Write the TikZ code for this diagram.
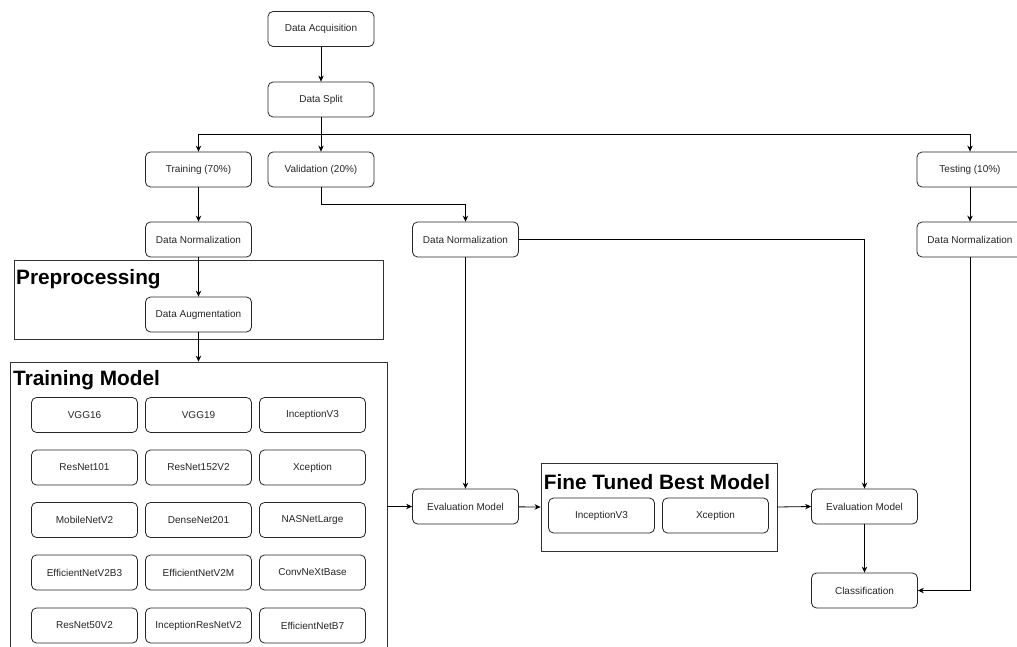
\documentclass[tikz,border=0pt]{standalone}
\usepackage{fontspec}
\setmainfont{Liberation Sans}
\usetikzlibrary{arrows.meta}
\begin{document}
\begin{tikzpicture}[x=1pt,y=-1pt,
  stepbox/.style={draw=black!85, line width=0.8pt, rounded corners=5pt, minimum width=106pt, minimum height=35pt, inner sep=0pt, font=\fontsize{10}{12}\selectfont, text=black!85},
  container/.style={draw=black!80, line width=0.8pt, inner sep=0pt},
  title/.style={font=\fontsize{20.8}{25}\selectfont\bfseries, inner sep=0pt},
  conn/.style={line width=0.8pt, -{Stealth[length=6pt,width=5.5pt]}},
  plain/.style={line width=0.8pt}]
\useasboundingbox (0,0) rectangle (1017,647);
\clip (0,0) rectangle (1017,647);
\fill[white] (0,0) rectangle (1017,647);

% containers
\node[container, minimum width=369pt, minimum height=79pt] (prep) at (198.5,299.5) {};
\node[title, anchor=west] (preptitle) at (16,279) {Preprocessing};
\node[container, minimum width=377pt, minimum height=338pt] (tm) at (198.5,531) {};
\node[title, anchor=west] (tmtitle) at (13,380) {Training Model};
\node[container, minimum width=236pt, minimum height=88pt] (ft) at (659,507) {};
\node[title] (fttitle) at (657,482) {Fine Tuned Best Model};

% boxes
\node[stepbox] (acq) at (321,29) {Data Acquisition};
\node[stepbox] (split) at (321,99.5) {Data Split};
\node[stepbox] (train) at (198.5,169.5) {Training (70\%)};
\node[stepbox] (val) at (321,169.5) {Validation (20\%)};
\node[stepbox] (test) at (970,169.5) {Testing (10\%)};
\node[stepbox] (dn1) at (198.5,239.5) {Data Normalization};
\node[stepbox] (dn2) at (465.5,239.5) {Data Normalization};
\node[stepbox] (dn3) at (970,239.5) {Data Normalization};
\node[stepbox] (aug) at (198.5,314.5) {Data Augmentation};

\node[stepbox] (m11) at (84.5,415) {VGG16};
\node[stepbox] (m12) at (198.5,415) {VGG19};
\node[stepbox] (m13) at (312.5,415) {InceptionV3};
\node[stepbox] (m21) at (84.5,467.5) {ResNet101};
\node[stepbox] (m22) at (198.5,467.5) {ResNet152V2};
\node[stepbox] (m23) at (312.5,467.5) {Xception};
\node[stepbox] (m31) at (84.5,520) {MobileNetV2};
\node[stepbox] (m32) at (198.5,520) {DenseNet201};
\node[stepbox] (m33) at (312.5,520) {NASNetLarge};
\node[stepbox] (m41) at (84.5,572.5) {EfficientNetV2B3};
\node[stepbox] (m42) at (198.5,572.5) {EfficientNetV2M};
\node[stepbox] (m43) at (312.5,572.5) {ConvNeXtBase};
\node[stepbox] (m51) at (84.5,625.5) {ResNet50V2};
\node[stepbox] (m52) at (198.5,625.5) {InceptionResNetV2};
\node[stepbox] (m53) at (312.5,625.5) {EfficientNetB7};

\node[stepbox] (eval1) at (465.5,506.5) {Evaluation Model};
\node[stepbox] (inc) at (601.5,515.5) {InceptionV3};
\node[stepbox] (xce) at (715.5,515.5) {Xception};
\node[stepbox] (eval2) at (864.5,506.5) {Evaluation Model};
\node[stepbox] (cls) at (864.5,590.5) {Classification};

% connectors
\coordinate (j) at (321,134);
\coordinate (vbend) at (321,204);
\draw[conn] (acq) -- (split);
\draw[plain] (split) -- (j);
\draw[conn] (j) -- (val);
\draw[conn] (j) -| (train);
\draw[conn] (j) -| (test);
\draw[conn] (train) -- (dn1);
\draw[conn] (val.south) -- (vbend) -| (dn2.north);
\draw[conn] (test) -- (dn3);
\draw[conn] (dn1) -- (aug);
\draw[conn] (aug) -- (tm.north);
\draw[conn] (dn2) -- (eval1);
\draw[conn] (tm.east |- eval1) -- (eval1.west);
\draw[conn] (eval1) -- (ft.west);
\draw[conn] (ft.east) -- (eval2.west);
\draw[conn] (dn2.east) -| (eval2.north);
\draw[conn] (eval2) -- (cls);
\draw[conn] (dn3.south) |- (cls.east);
\end{tikzpicture}
\end{document}
